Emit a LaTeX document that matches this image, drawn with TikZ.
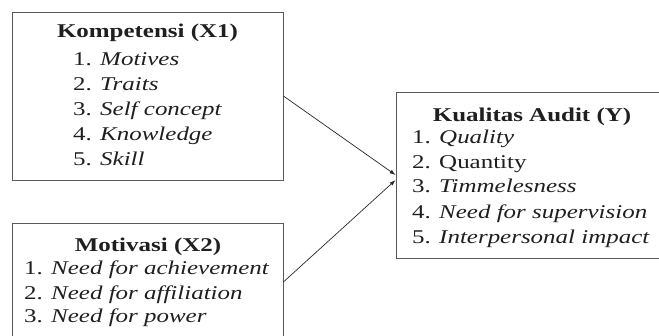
\documentclass[tikz,border=0pt]{standalone}
\usepackage{fontspec}
\setmainfont{Liberation Serif}[FakeStretch=1.28]
\usetikzlibrary{arrows.meta}
\begin{document}
\begin{tikzpicture}[x=1pt,y=1pt,
  box/.style={draw=black!65,line width=0.8pt,rectangle,inner sep=0pt},
  ttl/.style={anchor=base,inner sep=0pt,font=\fontsize{19.5}{23}\selectfont\bfseries,text=black!88},
  itm/.style={anchor=base west,inner sep=0pt,font=\fontsize{19.5}{23}\selectfont,text=black!88},
  arr/.style={-{Latex[length=6pt,width=4pt]},line width=0.7pt,black!85}]
\useasboundingbox (0,0) rectangle (659,336);
\clip (0,0) rectangle (659,336);
% boxes
\node[box,minimum width=271,minimum height=168] (b1) at (147.5,240) {};
\node[box,minimum width=271,minimum height=118] (b2) at (147.5,54) {};
\node[box,minimum width=265,minimum height=166] (b3) at (528.5,161) {};
% box 1
\node[ttl] (t1) at (147.5,298) {Kompetensi (X1)};
\node[itm] (t1a) at (73,270) {1. \textit{Motives}};
\node[itm] (t1b) at (73,245) {2. \textit{Traits}};
\node[itm] (t1c) at (73,220) {3. \textit{Self concept}};
\node[itm] (t1d) at (73,195) {4. \textit{Knowledge}};
\node[itm] (t1e) at (73,170) {5. \textit{Skill}};
% box 2
\node[ttl] (t2) at (148,84) {Motivasi (X2)};
\node[itm] (t2a) at (24,61) {1. \textit{Need for achievement}};
\node[itm] (t2b) at (24,36) {2. \textit{Need for affiliation}};
\node[itm] (t2c) at (24,13) {3. \textit{Need for power}};
% box 3
\node[ttl] (t3) at (532,214) {Kualitas Audit (Y)};
\node[itm] (t3a) at (412,192) {1. \textit{Quality}};
\node[itm] (t3b) at (412,167) {2. Quantity};
\node[itm] (t3c) at (412,143) {3. \textit{Timmelesness}};
\node[itm] (t3d) at (412,117) {4. \textit{Need for supervision}};
\node[itm] (t3e) at (412,92) {5. \textit{Interpersonal impact}};
% arrows
\draw[arr] (b1.east) -- (b3.west);
\draw[arr] (b2.east) -- ([yshift=-5pt]b3.west);
\end{tikzpicture}
\end{document}
